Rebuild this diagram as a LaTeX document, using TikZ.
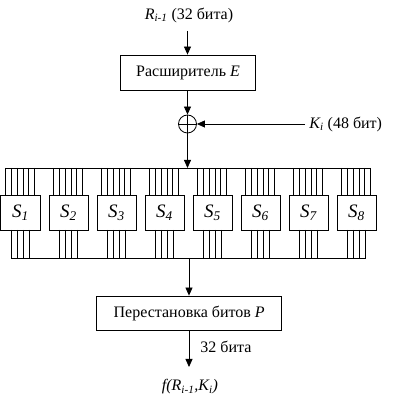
\documentclass[tikz,border=0pt]{standalone}
\usepackage{fontspec}
\setmainfont{Liberation Serif}
\usetikzlibrary{arrows.meta}
\newcommand\mysub[1]{\textsubscript{\textit{#1}}}
\begin{document}
\begin{tikzpicture}[x=1pt,y=-1pt, line width=0.8pt,
 arr/.style={-{Triangle[length=8pt,width=7pt]}},
 boxE/.style={draw, minimum height=35pt, inner sep=0pt, font=\fontsize{16}{18}\selectfont},
 sbox/.style={draw, minimum width=39pt, minimum height=35pt, inner sep=0pt, font=\fontsize{19}{21}\selectfont},
 lbl/.style={font=\fontsize{16}{18}\selectfont, inner sep=0pt},
 wire/.style={line width=0.8pt}]
\useasboundingbox (0,0) rectangle (405,403);
\node[lbl] (rin) at (189,15) {\textit{R\mysub{i-1}} (32 бита)};
\coordinate (rinA) at (187.5,31);
\node[boxE, minimum width=135pt] (E) at (188,72.5) {Расширитель \textit{E}};
\node[draw, circle, minimum size=18pt, inner sep=0pt] (x) at (187.5,124) {};
\draw (x.north) -- (x.south) (x.west) -- (x.east);
\node[lbl, anchor=west] (K) at (309,124) {\textit{K\mysub{i}} (48 бит)};
\coordinate (kA) at (305,124);
\draw[arr] (rinA) -- (E.north -| rinA);
\draw[arr] (E.south -| x) -- (x.north);
\draw[arr] (kA) -- (x.east);
\coordinate (tbL) at (5,168);
\coordinate (tbR) at (371,168);
\coordinate (tbM) at (187.5,168);
\draw[arr] (x.south) -- (tbM);
\draw[wire] (tbL) -- (tbR);
\coordinate (bbL) at (11,258);
\coordinate (bbR) at (366,258);
\coordinate (bbM) at (189,258);
\draw[wire] (bbL) -- (bbR);
\foreach \i in {1,...,8}{
  \pgfmathsetmacro{\lx}{0.5+48*(\i-1)}
  \node[sbox, anchor=north west] (S\i) at (\lx,195) {\textit{S\mysub{\i}}};
  \foreach \k in {0,...,5}{
    \draw[wire] (\lx+5+5.8*\k,168) -- (\lx+5+5.8*\k,195);
  }
  \foreach \k in {0,...,3}{
    \draw[wire] (\lx+10.5+6*\k,230) -- (\lx+10.5+6*\k,258);
  }
}
\node[boxE, minimum width=185pt, minimum height=34pt] (P) at (189.2,313) {Перестановка битов \textit{P}};
\draw[arr] (bbM) -- (P.north -| bbM);
\coordinate (fout) at (189,367);
\draw[arr] (P.south -| fout) -- (fout);
\node[lbl, anchor=west] (b32) at (200,347) {32 бита};
\node[lbl] (f) at (190,387) {\textit{f(R\mysub{i-1},K\mysub{i})}};
\end{tikzpicture}
\end{document}
